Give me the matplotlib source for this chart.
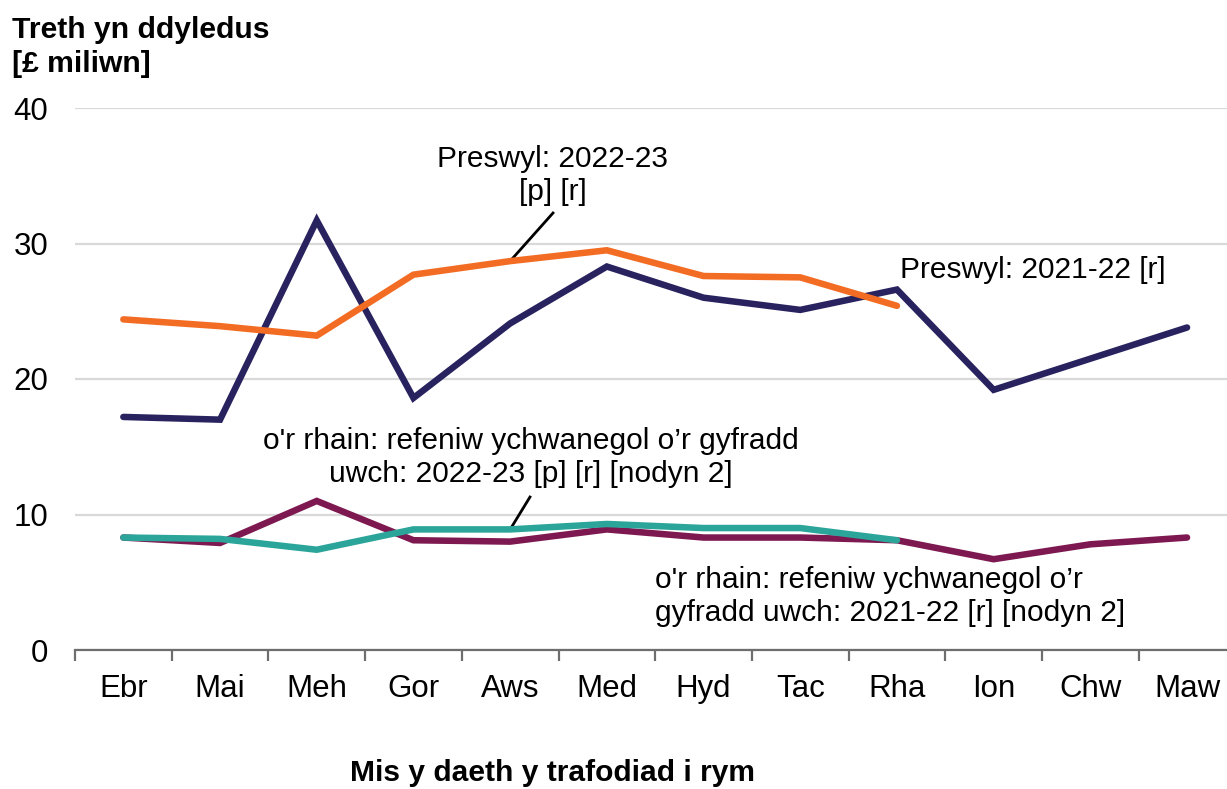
import matplotlib
matplotlib.use("Agg")
import matplotlib.pyplot as plt

plt.rcParams['font.family'] = ['Liberation Sans', 'DejaVu Sans']

months = ["Ebr", "Mai", "Meh", "Gor", "Aws", "Med", "Hyd", "Tac", "Rha", "Ion", "Chw", "Maw"]
res_2122 = [17.2, 17.0, 31.7, 18.6, 24.1, 28.3, 26.0, 25.1, 26.6, 19.2, 21.5, 23.8]
res_2223 = [24.4, 23.9, 23.2, 27.7, 28.7, 29.5, 27.6, 27.5, 25.4]
hr_2122 = [8.3, 7.9, 11.0, 8.1, 8.0, 8.9, 8.3, 8.3, 8.1, 6.7, 7.8, 8.3]
hr_2223 = [8.3, 8.2, 7.4, 8.9, 8.9, 9.3, 9.0, 9.0, 8.1]
y_ticks = [0, 10, 20, 30, 40]

c_navy = "#28225f"
c_orange = "#f36c23"
c_purple = "#7d1850"
c_teal = "#2ba59a"

W, H = 1227, 789
fig = plt.figure(figsize=(W / 100, H / 100), dpi=100)
ax = fig.add_axes([75 / W, (H - 650) / H, 1160.4 / W, 542 / H])

x_all = list(range(len(months)))
lw = 4.7
ax.plot(x_all, res_2122, color=c_navy, lw=lw, solid_capstyle='round', solid_joinstyle='miter', zorder=3)
ax.plot(x_all[:len(res_2223)], res_2223, color=c_orange, lw=lw, solid_capstyle='round', solid_joinstyle='miter', zorder=4)
ax.plot(x_all, hr_2122, color=c_purple, lw=lw, solid_capstyle='round', solid_joinstyle='miter', zorder=3)
ax.plot(x_all[:len(hr_2223)], hr_2223, color=c_teal, lw=lw, solid_capstyle='round', solid_joinstyle='miter', zorder=4)

tick_fs = 22.5
ax.set_xlim(-0.5, len(months) - 0.5)
ax.set_ylim(0, 40)
ax.set_yticks(y_ticks)
ax.set_yticklabels([str(v) for v in y_ticks], fontsize=tick_fs)
ax.tick_params(axis='y', length=0, pad=19.4)
ax.yaxis.grid(True, color='#d9d9d9', lw=1.6)
ax.set_axisbelow(True)

ax.set_xticks(x_all)
ax.set_xticklabels(months, fontsize=tick_fs)
ax.set_xticks([i - 0.5 for i in range(len(months) + 1)], minor=True)
ax.tick_params(axis='x', which='major', length=0, pad=17)
ax.tick_params(axis='x', which='minor', length=8, width=1.6, color='#6e6e6e')

for s in ['top', 'right', 'left']:
    ax.spines[s].set_visible(False)
ax.spines['bottom'].set_color('#6e6e6e')
ax.spines['bottom'].set_linewidth(1.6)

fs = 21.5
ls = 1.24
ax.text(4.443, 35.0, "Preswyl: 2022-23\n[p] [r]", ha='center', va='center', fontsize=fs, linespacing=ls)
ax.plot([4.443, 4.0], [32.25, res_2223[4]], color='black', lw=2)
ax.text(8.03, 28.04, "Preswyl: 2021-22 [r]", ha='left', va='center', fontsize=fs)
ax.text(4.216, 14.2, "o'r rhain: refeniw ychwanegol o’r gyfradd\nuwch: 2022-23 [p] [r] [nodyn 2]",
        ha='center', va='center', fontsize=fs, linespacing=ls)
ax.plot([4.205, 4.0], [11.29, hr_2223[4]], color='black', lw=2)
ax.text(5.498, 3.95, "o'r rhain: refeniw ychwanegol o’r\ngyfradd uwch: 2021-22 [r] [nodyn 2]",
        ha='left', va='center', fontsize=fs, linespacing=ls)

fig.text(12 / W, 1 - 16 / H, "Treth yn ddyledus\n[£ miliwn]", ha='left', va='top',
         fontsize=21.7, fontweight='bold', linespacing=1.26)
fig.text(553 / W, 1 - 773 / H, "Mis y daeth y trafodiad i rym", ha='center', va='center',
         fontsize=21.6, fontweight='bold')

fig.savefig("out.png", dpi=100)
